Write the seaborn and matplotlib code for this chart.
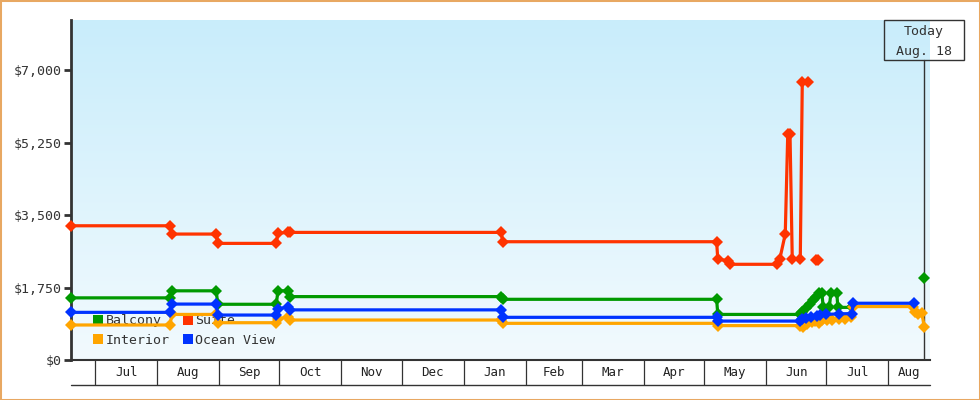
import matplotlib
matplotlib.use("Agg")
import matplotlib.pyplot as plt
import matplotlib.dates as mdates
import matplotlib.transforms as mtransforms
from matplotlib.colors import LinearSegmentedColormap
from matplotlib.lines import Line2D
from matplotlib.patches import Rectangle
import numpy as np
import pandas as pd
import seaborn as sns

# ---------------- data ----------------
series_names = ["Balcony", "Suite", "Interior", "Ocean View"]
series_colors = ["#009900", "#FF3300", "#FFA500", "#0033FF"]

NA = np.nan  # a gap in a series

balcony_dates = [
    "2012-06-19 00:00", "2012-08-07 12:00", "2012-08-08 06:00", "2012-08-30 12:00",
    "2012-08-31 06:00", "2012-09-29 12:00", "2012-09-30 06:00", "2012-10-05 12:00",
    "2012-10-06 06:00", "2013-01-19 18:00", "2013-01-20 12:00", "2013-05-07 06:00",
    "2013-05-07 20:00", "2013-06-17 18:00", "2013-06-18 18:00", "2013-06-20 18:00",
    "2013-06-22 18:00", "2013-06-24 06:00", "2013-06-25 18:00", "2013-06-27 06:00",
    "2013-06-28 18:00", "2013-06-29 12:00", "2013-07-02 12:00", "2013-07-03 06:00",
    "2013-07-06 06:00", "2013-07-06 18:00", "2013-07-13 18:00", "2013-07-14 06:00",
    "2013-08-10 00:00", "2013-08-18 21:00",
]
balcony_prices = [
    1500, 1500, 1670, 1670,
    1345, 1345, 1670, 1670,
    1530, 1530, 1465, 1465,
    1100, 1100, 1150, 1250,
    1340, 1450, 1530, 1610,
    1610, 1270, 1270, 1610,
    1610, 1270, 1270, 1300,
    NA, 1985,
]

suite_dates = [
    "2012-06-19 00:00", "2012-08-07 12:00", "2012-08-08 06:00", "2012-08-30 12:00",
    "2012-08-31 06:00", "2012-09-29 12:00", "2012-09-30 06:00", "2012-10-05 12:00",
    "2012-10-06 06:00", "2013-01-19 18:00", "2013-01-20 12:00", "2013-05-07 06:00",
    "2013-05-07 20:00", "2013-05-13 00:00", "2013-05-13 18:00", "2013-06-06 06:00",
    "2013-06-07 18:00", "2013-06-10 12:00", "2013-06-11 18:00", "2013-06-12 21:00",
    "2013-06-14 00:00", "2013-06-18 00:00", "2013-06-19 00:00", "2013-06-22 00:00",
    "2013-06-24 00:00", "2013-06-26 00:00", "2013-06-26 18:00",
]
suite_prices = [
    3240, 3240, 3040, 3040,
    2815, 2815, 3060, 3080,
    3080, 3080, 2855, 2855,
    2430, 2400, 2310, 2310,
    2430, 3040, 5455, 5455,
    2430, 2430, 6700, 6700,
    NA, 2414, 2414,
]

interior_dates = [
    "2012-06-19 00:00", "2012-08-07 12:00", "2012-08-08 06:00", "2012-08-30 12:00",
    "2012-08-31 06:00", "2012-09-29 12:00", "2012-09-30 06:00", "2012-10-05 12:00",
    "2012-10-06 06:00", "2013-01-19 18:00", "2013-01-20 12:00", "2013-05-07 06:00",
    "2013-05-07 20:00", "2013-06-17 18:00", "2013-06-19 06:00", "2013-06-21 12:00",
    "2013-06-24 00:00", "2013-06-25 12:00", "2013-06-27 12:00", "2013-06-29 00:00",
    "2013-07-01 12:00", "2013-07-04 00:00", "2013-07-07 12:00", "2013-07-10 12:00",
    "2013-07-13 12:00", "2013-07-14 12:00", "2013-08-13 12:00", "2013-08-14 06:00",
    "2013-08-15 18:00", "2013-08-17 18:00", "2013-08-18 21:00",
]
interior_prices = [
    845, 845, 1100, 1100,
    900, 900, 1000, 1030,
    965, 965, 885, 885,
    830, 830, 800, 870,
    910, 940, 900, 960,
    975, 960, 990, 1000,
    1040, 1290, 1290, 1170,
    1100, 1130, 790,
]

ocean_dates = [
    "2012-06-19 00:00", "2012-08-07 12:00", "2012-08-08 06:00", "2012-08-30 12:00",
    "2012-08-31 06:00", "2012-09-29 12:00", "2012-09-30 06:00", "2012-10-05 12:00",
    "2012-10-06 06:00", "2013-01-19 18:00", "2013-01-20 12:00", "2013-05-07 06:00",
    "2013-05-07 20:00", "2013-06-17 18:00", "2013-06-19 00:00", "2013-06-21 00:00",
    "2013-06-23 12:00", "2013-06-26 12:00", "2013-06-28 00:00", "2013-07-01 00:00",
    "2013-07-07 12:00", "2013-07-13 18:00", "2013-07-14 12:00", "2013-08-13 21:00",
]
ocean_prices = [
    1150, 1150, 1350, 1350,
    1085, 1085, 1230, 1285,
    1210, 1210, 1030, 1030,
    940, 940, 980, 1020,
    1045, 1060, 1080, 1100,
    1115, 1120, 1370, 1370,
]

y_ticks = [0, 1750, 3500, 5250, 7000]
y_tick_labels = ["$0", "$1,750", "$3,500", "$5,250", "$7,000"]
month_labels = ["Jul", "Aug", "Sep", "Oct", "Nov", "Dec", "Jan", "Feb",
                "Mar", "Apr", "May", "Jun", "Jul", "Aug"]
x_start = "2012-06-19 00:00"
x_end = "2013-08-21 18:00"
y_max = 8207
today = "2013-08-18 21:00"
today_text = ["Today", "Aug. 18"]

# ---------------- build table ----------------
frames = []
for name, d, p in [("Balcony", balcony_dates, balcony_prices),
                   ("Suite", suite_dates, suite_prices),
                   ("Interior", interior_dates, interior_prices),
                   ("Ocean View", ocean_dates, ocean_prices)]:
    f = pd.DataFrame({"date": pd.to_datetime(d), "price": p})
    f["seg"] = name + "_" + f["price"].isna().cumsum().astype(str)
    f["series"] = name
    frames.append(f.dropna())
df = pd.concat(frames, ignore_index=True)

# ---------------- figure ----------------
sns.set_theme(style="white")
plt.rcParams["font.family"] = ["DejaVu Sans Mono", "DejaVu Sans"]

fig = plt.figure(figsize=(9.8, 4.0), dpi=100)
ax = fig.add_axes([71 / 980, 40 / 400, (930 - 71) / 980, 340 / 400])

palette = dict(zip(series_names, series_colors))
sns.lineplot(data=df, x="date", y="price", hue="series", units="seg",
             estimator=None, palette=palette, hue_order=series_names,
             marker="D", markersize=5.8, markeredgewidth=0, linewidth=2.3,
             legend=False, ax=ax, zorder=3)
for ln in ax.lines:
    ln.set_clip_on(False)

# gradient background
cmap = LinearSegmentedColormap.from_list("bg", ["#C9EDFB", "#F2FAFE"])
ax.imshow(np.linspace(0, 1, 256).reshape(-1, 1), cmap=cmap, aspect="auto",
          extent=[0, 1, 0, 1], transform=ax.transAxes, zorder=0)

x0 = mdates.date2num(pd.Timestamp(x_start))
x1 = mdates.date2num(pd.Timestamp(x_end))
ax.set_xlim(x0, x1)
ax.set_ylim(0, y_max)

# spines
for s in ["top", "right"]:
    ax.spines[s].set_visible(False)
ax.spines["left"].set_color("#333333")
ax.spines["left"].set_linewidth(2)
ax.spines["bottom"].set_color("#333333")
ax.spines["bottom"].set_linewidth(1.5)

# y axis
ax.set_yticks(y_ticks)
ax.set_yticklabels(y_tick_labels)
ax.tick_params(axis="y", length=5, width=2, color="#333333",
               labelsize=9.5, labelcolor="#333333", pad=2, left=True)
ax.set_ylabel("")
ax.set_xlabel("")

# x axis: month cells
month_starts = pd.date_range("2012-07-01", periods=len(month_labels), freq="MS")
ms_num = mdates.date2num(month_starts)
edges = list(ms_num) + [x1]
centers = [(edges[i] + edges[i + 1]) / 2 for i in range(len(month_labels))]
ax.set_xticks(ms_num)
ax.set_xticklabels([""] * len(ms_num))
ax.set_xticks(centers, minor=True)
ax.set_xticklabels(month_labels, minor=True)
ax.tick_params(axis="x", which="major", length=18, width=0.9, color="#333333",
               direction="out", bottom=True)
ax.tick_params(axis="x", which="minor", length=0, labelsize=9,
               labelcolor="#222222", pad=4.5, bottom=True)
ax.plot([0, 1], [-25 / 340, -25 / 340], transform=ax.transAxes,
        color="#333333", lw=1, clip_on=False)

# today marker
t = mdates.date2num(pd.Timestamp(today))
ax.axvline(t, ymin=0, ymax=300 / 340, color="#333333", lw=1, zorder=2)
blend = mtransforms.blended_transform_factory(ax.transData, ax.transAxes)
ax.add_patch(Rectangle((t - 20, 300 / 340), 40, 40 / 340, transform=blend,
                       fill=False, ec="#333333", lw=1, clip_on=False, zorder=4))
ax.text(t, (360 - 32) / 340, today_text[0], transform=blend, ha="center",
        va="center", fontsize=9.5, color="#333333")
ax.text(t, (360 - 51) / 340, today_text[1], transform=blend, ha="center",
        va="center", fontsize=9.5, color="#333333")

# legend
order = ["Balcony", "Interior", "Suite", "Ocean View"]
handles = [Line2D([], [], marker="s", ls="none", color=palette[n],
                  markersize=7.5, markeredgewidth=0) for n in order]
leg = ax.legend(handles, order, ncol=2, loc="lower left",
                bbox_to_anchor=(22 / 859, 13 / 340), frameon=False,
                borderpad=0, borderaxespad=0, handlelength=0.8,
                handletextpad=0.15, columnspacing=1.0, labelspacing=0.5,
                fontsize=9.5)
for txt in leg.get_texts():
    txt.set_color("#333333")
leg.set_zorder(1)

# figure border
fig.patches.append(Rectangle((0, 0), 1, 1, transform=fig.transFigure,
                             fill=False, ec="#E8A862", lw=2.2))

fig.savefig("out.png", dpi=100)
